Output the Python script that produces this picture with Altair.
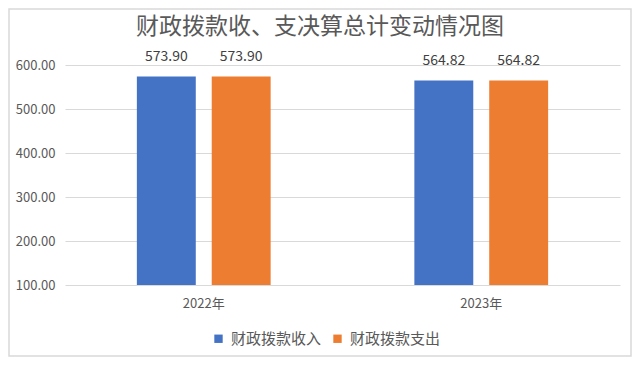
import altair as alt
import pandas as pd

title_text = "财政拨款收、支决算总计变动情况图"
years = ["2022年", "2023年"]
series = ["财政拨款收入", "财政拨款支出"]
income = [573.90, 564.82]
expense = [573.90, 564.82]
colors = ["#4472C4", "#ED7D31"]
y_ticks = [100, 200, 300, 400, 500, 600]

rows = []
for i, y in enumerate(years):
    rows.append({"year": y, "series": series[0], "value": income[i]})
    rows.append({"year": y, "series": series[1], "value": expense[i]})
df = pd.DataFrame(rows)

FONT = "Noto Sans CJK SC"

x_enc = alt.X("year:N", sort=years,
              scale=alt.Scale(paddingInner=0, paddingOuter=0),
              axis=alt.Axis(title=None, labelAngle=0, domain=False, ticks=False,
                            labelPadding=12, labelFontSize=13, labelColor="#595959",
                            labelFont=FONT))
xoff = alt.XOffset("series:N", sort=series,
                   scale=alt.Scale(paddingInner=0.213, paddingOuter=0.96))
y_enc = alt.Y("value:Q",
              scale=alt.Scale(domain=[100, 600], zero=False, nice=False),
              axis=alt.Axis(title=None, values=y_ticks, format=".2f", domain=False,
                            ticks=False, labelPadding=10, labelFontSize=13,
                            labelColor="#595959", labelFont=FONT,
                            gridColor="#D9D9D9", gridWidth=1))

base = alt.Chart(df)

bars = base.mark_bar().encode(
    x=x_enc, xOffset=xoff, y=y_enc, y2=alt.datum(100),
    color=alt.Color("series:N", sort=series,
                    scale=alt.Scale(domain=series, range=colors),
                    legend=alt.Legend(title=None, orient="none", direction="horizontal",
                                      legendX=146, legendY=266, symbolType="square",
                                      symbolSize=70, symbolStrokeWidth=0,
                                      labelFontSize=15, labelColor="#595959",
                                      labelFont=FONT, columnPadding=8,
                                      symbolOffset=0, labelOffset=5)),
)

labels = base.mark_text(baseline="bottom", dy=-12, fontSize=14, color="#404040",
                        font=FONT).encode(
    x=x_enc, xOffset=xoff, y=y_enc,
    text=alt.Text("value:Q", format=".2f"),
)

deco = alt.Chart(alt.Data(values=[{"t": title_text}]))

border = deco.mark_rect(
    fill=None, stroke="#D9D9D9", strokeWidth=1.5
).encode(
    x=alt.value(-56), x2=alt.value(566), y=alt.value(-56), y2=alt.value(291)
)

title = deco.mark_text(fontSize=23, font=FONT, color="#595959", baseline="middle",
                       align="center").encode(
    x=alt.value(255), y=alt.value(-38), text="t:N"
)

chart = alt.layer(border, title, bars, labels).properties(
    width=555, height=220,
    autosize=alt.AutoSizeParams(type="none"),
    padding={"left": 57, "top": 57, "right": 12, "bottom": 72},
).configure_view(stroke=None)

chart.save("out.html", embed_options={"renderer": "svg", "actions": False})
